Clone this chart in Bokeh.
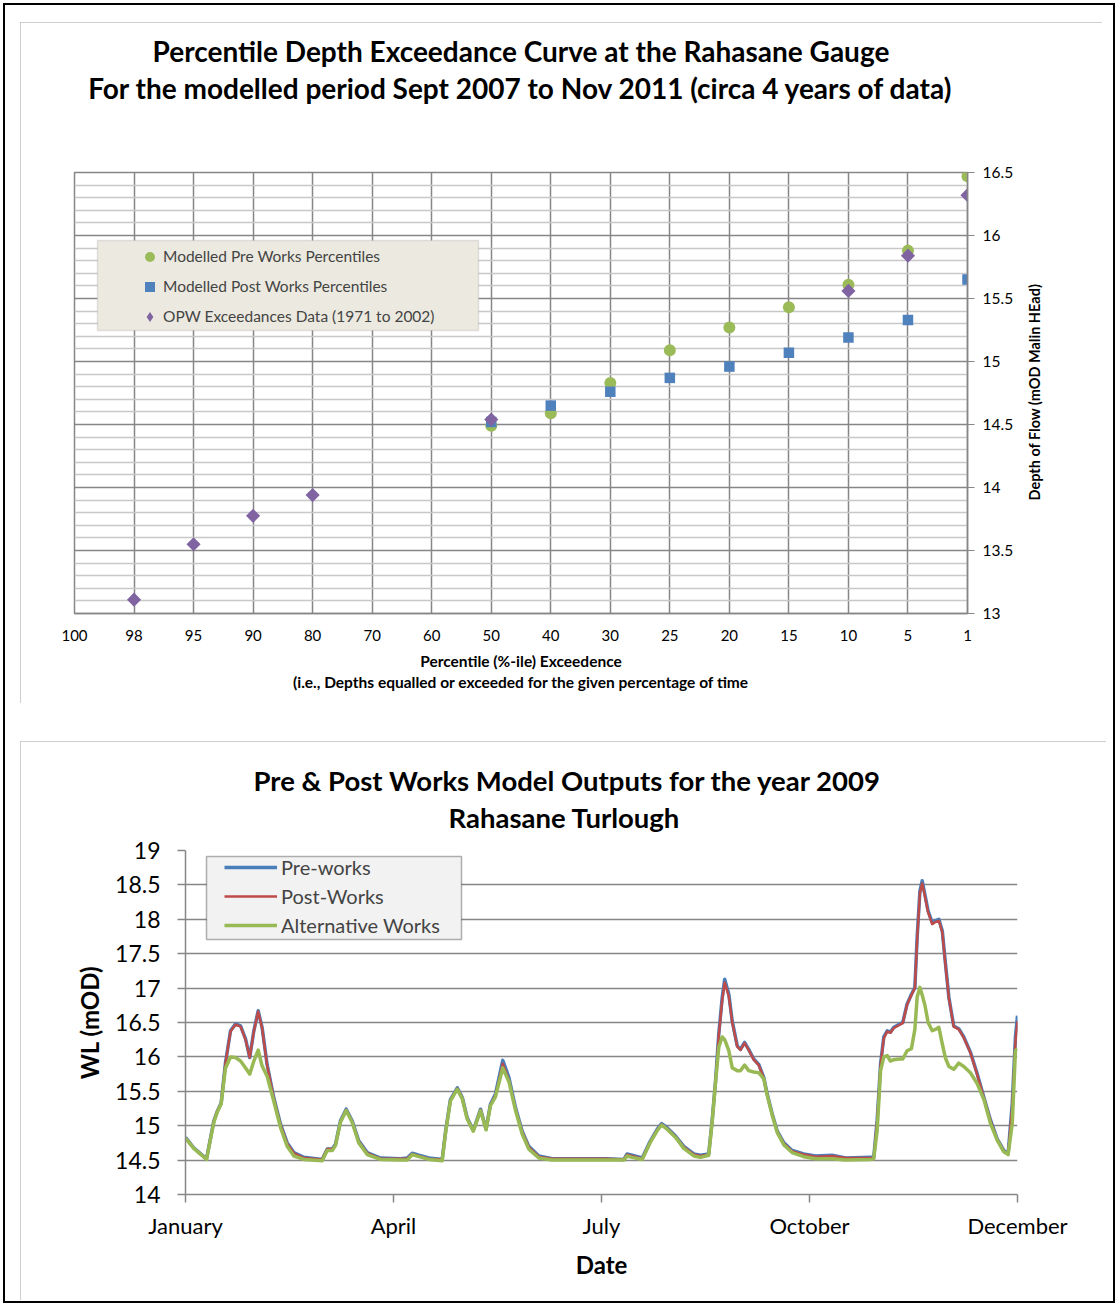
from bokeh.plotting import figure
from bokeh.models import (Range1d, FixedTicker, CustomJSTickFormatter, Legend, Title,
                          LegendItem, BoxAnnotation, Spacer, LinearAxis)
from bokeh.layouts import column, row
from bokeh.embed import file_html
from bokeh.resources import INLINE
import math

FONT = "Lato"

# ---------------- Top chart data ----------------
pct_labels = ["100", "98", "95", "90", "80", "70", "60", "50", "40", "30", "25", "20", "15", "10", "5", "1"]
pre_pct = ["50", "40", "30", "25", "20", "15", "10", "5", "1"]
pre_depth = [14.49, 14.59, 14.83, 15.09, 15.27, 15.43, 15.61, 15.88, 16.47]
post_pct = ["50", "40", "30", "25", "20", "15", "10", "5", "1"]
post_depth = [14.52, 14.65, 14.76, 14.87, 14.96, 15.07, 15.19, 15.33, 15.65]
opw_pct = ["98", "95", "90", "80", "50", "10", "5", "1"]
opw_depth = [13.11, 13.55, 13.775, 13.94, 14.54, 15.56, 15.84, 16.32]
depth_ticks = [13, 13.5, 14, 14.5, 15, 15.5, 16, 16.5]
depth_minor = [13.1, 13.2, 13.3, 13.4, 13.6, 13.7, 13.8, 13.9, 14.1, 14.2, 14.3, 14.4,
               14.6, 14.7, 14.8, 14.9, 15.1, 15.2, 15.3, 15.4, 15.6, 15.7, 15.8, 15.9,
               16.1, 16.2, 16.3, 16.4]

# ---------------- Bottom chart data ----------------
month_ticks = [0, 91, 182, 273, 364]
month_labels = ["January", "April", "July", "October", "December"]
wl_ticks = [14, 14.5, 15, 15.5, 16, 16.5, 17, 17.5, 18, 18.5, 19]

days = [0, 3.6, 9.2, 12.4, 13.9, 15.6, 17.5, 19.7, 21.9, 24.1,
        26.3, 28.1, 29.9, 31.8, 33.5, 35.7, 38.6, 41.6, 44.5, 47.4,
        51.8, 59.8, 62.0, 64.2, 65.6, 67.8, 70.3, 72.9, 75.8, 79.5,
        85.3, 94.1,
        97.0, 99.2, 102.1, 106.5, 112.3, 113.8, 115.9, 118.9, 121.1, 123.2,
        125.9, 129.1, 131.5, 133.4, 135.6, 138.8, 141.5, 144.4, 147.3, 150.2,
        154.6, 160.4, 183.8,
        191.8, 193.2, 195.4, 199.8, 203.4, 206.4, 208.3, 210.7, 214.4, 218.0,
        222.4, 225.3, 228.9, 230.4, 231.9, 233.3, 234.8, 235.9, 237.7, 239.2,
        241.4, 242.8, 244.6, 246.4, 248.6, 250.8, 253.0, 254.5, 256.7, 258.9,
        261.8, 265.4, 270.5, 275.6,
        282.9, 288.8, 299.7, 301.1, 302.6, 304.1, 305.5, 307.0, 308.4, 309.9,
        312.1, 313.8, 315.7, 317.6, 319.1, 320.1, 321.3, 322.3, 323.5, 324.9,
        326.7, 328.1, 329.6, 331.1, 332.5, 334.0, 336.1, 338.3, 340.5, 343.4,
        346.4, 349.3, 352.2, 355.1, 358.0, 359.9, 361.7, 363.1, 364.0]

pre_works = [14.83, 14.68, 14.52, 15.07, 15.21, 15.33, 15.92, 16.38, 16.48, 16.45,
             16.26, 15.99, 16.38, 16.67, 16.43, 15.89, 15.41, 15.02, 14.75, 14.61,
             14.54, 14.51, 14.66, 14.66, 14.73, 15.07, 15.24, 15.07, 14.78, 14.61,
             14.53, 14.52,
             14.53, 14.60, 14.57, 14.53, 14.51, 14.92, 15.38, 15.55, 15.41, 15.12,
             14.93, 15.24, 14.95, 15.31, 15.46, 15.95, 15.70, 15.26, 14.92, 14.70,
             14.56, 14.52, 14.52,
             14.51, 14.59, 14.57, 14.53, 14.78, 14.95, 15.03, 14.97, 14.85, 14.70,
             14.59, 14.57, 14.59, 15.07, 15.65, 16.33, 16.86, 17.13, 16.91, 16.52,
             16.16, 16.11, 16.21, 16.11, 15.97, 15.89, 15.70, 15.46, 15.17, 14.92,
             14.75, 14.64, 14.59, 14.56,
             14.57, 14.53, 14.54, 14.54, 15.08, 15.90, 16.29, 16.38, 16.36, 16.43,
             16.47, 16.50, 16.77, 16.91, 17.01, 17.74, 18.41, 18.56, 18.36, 18.12,
             17.95, 17.98, 18.00, 17.83, 17.35, 16.86, 16.45, 16.41, 16.29, 16.07,
             15.75, 15.41, 15.08, 14.81, 14.64, 14.59, 15.32, 16.29, 16.60]

post_works = [14.82, 14.67, 14.52, 15.07, 15.21, 15.33, 15.91, 16.37, 16.47, 16.44,
              16.25, 15.99, 16.37, 16.66, 16.42, 15.88, 15.40, 15.01, 14.74, 14.60,
              14.53, 14.51, 14.66, 14.66, 14.72, 15.06, 15.23, 15.06, 14.77, 14.60,
              14.52, 14.52,
              14.52, 14.59, 14.56, 14.52, 14.51, 14.92, 15.37, 15.54, 15.40, 15.11,
              14.93, 15.23, 14.95, 15.30, 15.44, 15.90, 15.66, 15.24, 14.91, 14.69,
              14.55, 14.52, 14.52,
              14.51, 14.58, 14.56, 14.52, 14.77, 14.94, 15.02, 14.96, 14.84, 14.69,
              14.58, 14.56, 14.58, 15.06, 15.64, 16.31, 16.82, 17.08, 16.88, 16.50,
              16.15, 16.10, 16.20, 16.10, 15.96, 15.88, 15.69, 15.45, 15.16, 14.91,
              14.74, 14.63, 14.58, 14.55,
              14.56, 14.53, 14.53, 14.53, 15.07, 15.88, 16.27, 16.37, 16.35, 16.42,
              16.46, 16.49, 16.76, 16.90, 17.00, 17.70, 18.38, 18.52, 18.33, 18.10,
              17.93, 17.96, 17.98, 17.81, 17.33, 16.85, 16.44, 16.40, 16.28, 16.06,
              15.74, 15.40, 15.07, 14.80, 14.63, 14.58, 15.28, 16.22, 16.52]

alternative_works = [14.82, 14.67, 14.51, 15.05, 15.20, 15.32, 15.84, 16.00, 15.99, 15.94,
                     15.84, 15.75, 15.94, 16.10, 15.87, 15.72, 15.36, 14.97, 14.70, 14.56,
                     14.51, 14.49, 14.64, 14.64, 14.71, 15.05, 15.22, 15.05, 14.75, 14.58,
                     14.51, 14.50,
                     14.50, 14.58, 14.55, 14.51, 14.49, 14.90, 15.36, 15.53, 15.39, 15.10,
                     14.92, 15.22, 14.94, 15.29, 15.42, 15.84, 15.64, 15.22, 14.88, 14.66,
                     14.53, 14.50, 14.50,
                     14.50, 14.56, 14.54, 14.51, 14.76, 14.93, 15.01, 14.95, 14.83, 14.67,
                     14.56, 14.54, 14.57, 15.05, 15.63, 16.14, 16.29, 16.25, 16.09, 15.84,
                     15.80, 15.80, 15.88, 15.80, 15.78, 15.77, 15.68, 15.44, 15.15, 14.90,
                     14.72, 14.61, 14.55, 14.52,
                     14.52, 14.50, 14.51, 14.52, 14.93, 15.80, 16.00, 16.02, 15.94, 15.96,
                     15.97, 15.97, 16.09, 16.12, 16.40, 16.87, 17.01, 16.90, 16.75, 16.50,
                     16.38, 16.40, 16.43, 16.19, 15.98, 15.86, 15.82, 15.91, 15.86, 15.77,
                     15.61, 15.38, 15.03, 14.79, 14.62, 14.58, 15.03, 16.09, 16.12]

GRID = "#868686"
num_fmt = CustomJSTickFormatter(code="return String(Math.round(tick * 10) / 10);")


def style_title(t, text, size, standoff, align="center", offset=0, valign="bottom"):
    t.text = text
    t.align = align
    t.vertical_align = valign
    t.text_font = FONT
    t.text_font_size = size
    t.text_font_style = "bold"
    t.text_color = "black"
    t.standoff = standoff
    t.offset = offset
    return t


def spacer_title(standoff):
    # blank title used only to reserve vertical room between frame and titles
    return Title(text=" ", text_font_size="10px", standoff=standoff)


# ================= Top chart =================
W1, H1 = 1082, 681
p1 = figure(width=W1, height=H1, output_backend="svg", toolbar_location=None,
            x_range=Range1d(0, len(pct_labels) - 1), y_range=Range1d(13, 16.5),
            y_axis_location="right",
            min_border_left=54, min_border_right=135, min_border_top=150, min_border_bottom=90,
            styles={"outline": "1.5px solid #BFBFBF", "outline-offset": "-1.5px"})
p1.outline_line_color = GRID
p1.outline_line_width = 1.5

xi = {c: i for i, c in enumerate(pct_labels)}
opw_x = [xi[c] for c in opw_pct]
r_pre = p1.scatter([xi[c] for c in pre_pct], pre_depth, marker="circle", size=12,
                   fill_color="#9BBB59", line_color=None)
r_post = p1.scatter([xi[c] for c in post_pct], post_depth, marker="square", size=10.5,
                    fill_color="#4F81BD", line_color=None)
r_opw = p1.scatter(opw_x, opw_depth, marker="square", angle=math.pi / 4,
                   size=10, fill_color="#8064A2", line_color=None)
# hidden twin of the OPW series, used only for its diamond legend key
r_opw_key = p1.scatter(opw_x, opw_depth, marker="diamond", size=14,
                       fill_color="#8064A2", line_color=None, visible=False)

xa = p1.xaxis[0]
xa.ticker = FixedTicker(ticks=list(range(len(pct_labels))))
xa.major_label_overrides = {i: lab for i, lab in enumerate(pct_labels)}
xa.axis_line_color = GRID
xa.axis_line_width = 1.5
xa.major_tick_out = 0
xa.major_tick_in = 0
xa.minor_tick_out = 0
xa.minor_tick_in = 0
xa.major_label_standoff = 16
xa.major_label_text_font = FONT
xa.major_label_text_font_size = "15px"
xa.major_label_text_color = "black"
xa.axis_label = "Percentile (%-ile) Exceedence"
xa.axis_label_text_font = FONT
xa.axis_label_text_font_size = "15.5px"
xa.axis_label_text_font_style = "bold"
xa.axis_label_text_color = "black"
xa.axis_label_standoff = 8

ya = p1.yaxis[0]
ya.ticker = FixedTicker(ticks=depth_ticks, minor_ticks=depth_minor)
ya.formatter = num_fmt
ya.axis_line_color = GRID
ya.axis_line_width = 1.5
ya.major_tick_out = 7
ya.major_tick_in = 0
ya.major_tick_line_color = GRID
ya.minor_tick_out = 0
ya.minor_tick_in = 0
ya.major_label_standoff = 8
ya.major_label_text_font = FONT
ya.major_label_text_font_size = "15.5px"
ya.major_label_text_color = "black"

# right-hand axis title, reading bottom-to-top, starting level with 13.9 m
y_title_start = [13.897]
y_title_axis = LinearAxis(ticker=FixedTicker(ticks=y_title_start, minor_ticks=[]),
                          formatter=CustomJSTickFormatter(args=dict(label="Depth of Flow  (mOD Malin  HEad)"),
                                                          code="return label;"),
                          major_label_orientation=math.pi / 2,
                          axis_line_color=None, major_tick_line_color=None, minor_tick_line_color=None,
                          major_tick_out=0, major_tick_in=0, minor_tick_out=0, minor_tick_in=0,
                          major_label_standoff=18,
                          major_label_text_font=FONT, major_label_text_font_size="14.5px",
                          major_label_text_font_style="bold", major_label_text_color="black")
p1.add_layout(y_title_axis, "right")

p1.xgrid.grid_line_color = GRID
p1.xgrid.grid_line_width = 1.5
p1.ygrid.grid_line_color = GRID
p1.ygrid.grid_line_width = 1.5
p1.ygrid.minor_grid_line_color = "#C8C8C8"
p1.ygrid.minor_grid_line_width = 1.5

p1.add_layout(BoxAnnotation(left=23, right=404, top=373, bottom=283,
                            left_units="screen", right_units="screen",
                            top_units="screen", bottom_units="screen",
                            fill_color="#ECEAE0", fill_alpha=1.0,
                            line_color="#A6A6A6", line_width=1.5))
leg1 = Legend(items=[LegendItem(label="Modelled Pre Works Percentiles", renderers=[r_pre]),
                     LegendItem(label="Modelled Post Works Percentiles", renderers=[r_post]),
                     LegendItem(label="OPW Exceedances Data (1971 to 2002)", renderers=[r_opw_key])],
              location=(63, 284.5), padding=4, spacing=5, margin=0,
              glyph_width=25, glyph_height=25, label_standoff=1, label_height=20,
              label_text_font=FONT, label_text_font_size="15.5px",
              border_line_color=None, background_fill_alpha=0, inactive_fill_alpha=0)
p1.add_layout(leg1)

p1.add_layout(spacer_title(55), "above")
p1.add_layout(style_title(Title(), "For the modelled period Sept 2007 to Nov 2011 (circa 4 years of data)",
                          "28px", 0), "above")
style_title(p1.title, "Percentile Depth Exceedance Curve at the Rahasane Gauge", "28px", 2)
p1.add_layout(style_title(Title(), "(i.e., Depths equalled or exceeded for the given percentage of time",
                          "15.5px", 0, valign="top"), "below")

# ================= Bottom chart =================
W2, H2 = 1086, 559
p2 = figure(width=W2, height=H2, output_backend="svg", toolbar_location=None,
            x_range=Range1d(0, 364), y_range=Range1d(14, 19),
            min_border_left=165, min_border_right=89, min_border_top=109, min_border_bottom=106,
            styles={"outline": "1.5px solid #BFBFBF", "outline-offset": "-1.5px"})
p2.outline_line_color = None

l_pre = p2.line(days, pre_works, line_color="#4A7EBB", line_width=3.5, line_join="round")
l_post = p2.line(days, post_works, line_color="#BE4B48", line_width=2.5, line_join="round")
l_alt = p2.line(days, alternative_works, line_color="#98B954", line_width=3.5, line_join="round")

bx = p2.xaxis[0]
bx.ticker = FixedTicker(ticks=month_ticks)
bx.major_label_overrides = {t: m for t, m in zip(month_ticks, month_labels)}
bx.axis_line_color = GRID
bx.axis_line_width = 1.5
bx.major_tick_line_color = GRID
bx.major_tick_line_width = 1.5
bx.major_tick_out = 8
bx.major_tick_in = 0
bx.minor_tick_out = 0
bx.minor_tick_in = 0
bx.major_label_standoff = 9
bx.major_label_text_font = FONT
bx.major_label_text_font_size = "22px"
bx.major_label_text_color = "black"
bx.axis_label = "Date"
bx.axis_label_text_font = FONT
bx.axis_label_text_font_size = "24px"
bx.axis_label_text_font_style = "bold"
bx.axis_label_text_color = "black"
bx.axis_label_standoff = 8

by = p2.yaxis[0]
by.ticker = FixedTicker(ticks=wl_ticks)
by.formatter = num_fmt
by.axis_line_color = GRID
by.axis_line_width = 1.5
by.major_tick_line_color = GRID
by.major_tick_line_width = 1.5
by.major_tick_out = 8
by.major_tick_in = 0
by.minor_tick_out = 0
by.minor_tick_in = 0
by.major_label_standoff = 17
by.major_label_text_font = FONT
by.major_label_text_font_size = "23px"
by.major_label_text_color = "black"
by.axis_label = "WL (mOD)"
by.axis_label_text_font = FONT
by.axis_label_text_font_size = "24px"
by.axis_label_text_font_style = "bold"
by.axis_label_text_color = "black"
by.axis_label_standoff = 8

p2.xgrid.grid_line_color = None
p2.ygrid.grid_line_color = GRID
p2.ygrid.grid_line_width = 1.5

p2.add_layout(BoxAnnotation(left=21, right=276, top=338, bottom=255,
                            left_units="screen", right_units="screen",
                            top_units="screen", bottom_units="screen",
                            fill_color="#F2F2F2", fill_alpha=1.0,
                            line_color="black", line_width=1.5))
leg2 = Legend(items=[LegendItem(label="Pre-works", renderers=[l_pre]),
                     LegendItem(label="Post-Works", renderers=[l_post]),
                     LegendItem(label="Alternative Works", renderers=[l_alt])],
              location=(39, 257), padding=2, spacing=5, margin=0,
              glyph_width=53, glyph_height=22, label_standoff=4, label_height=22,
              label_text_font=FONT, label_text_font_size="20px",
              border_line_color=None, background_fill_alpha=0)
p2.add_layout(leg2)

p2.add_layout(spacer_title(4), "above")
p2.add_layout(style_title(Title(), "Rahasane Turlough", "27.5px", 0, "left", 263), "above")
style_title(p2.title, "Pre & Post Works Model Outputs for the year 2009", "27.5px", 4, "left", 68)

layout = column(Spacer(height=22, width=1106),
                row(Spacer(width=20, height=H1), p1),
                Spacer(height=38, width=1106),
                row(Spacer(width=20, height=H2), p2),
                width=1118, height=1306,
                styles={"outline": "2px solid black", "outline-offset": "-5px"})

open("out.html", "w").write(file_html(layout, INLINE, title="Rahasane charts"))
